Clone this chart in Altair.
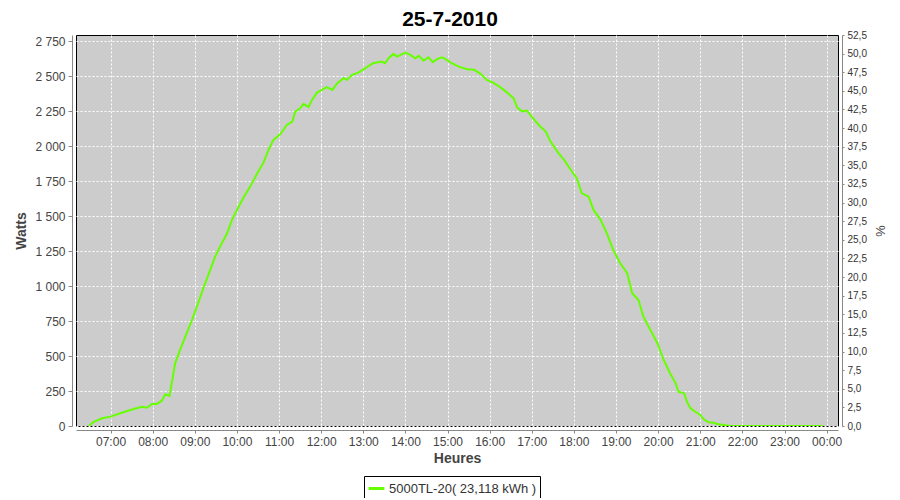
import altair as alt
import pandas as pd

# ---- data ----
times = [
    "06:29", "06:36", "06:48", "07:00", "07:16", "07:33", "07:45", "07:52", "07:59", "08:06",
    "08:13", "08:18", "08:24", "08:28", "08:32", "08:39", "08:45", "08:56", "09:03", "09:13",
    "09:22", "09:29", "09:36", "09:46", "09:53", "10:00", "10:10", "10:19", "10:29", "10:38",
    "10:45", "10:52", "11:02", "11:11", "11:19", "11:23", "11:30", "11:35", "11:42", "11:47",
    "11:54", "12:01", "12:08", "12:16", "12:23", "12:32", "12:37", "12:44", "12:53", "13:03",
    "13:14", "13:26", "13:31", "13:36", "13:43", "13:48", "14:00", "14:07", "14:14", "14:19",
    "14:26", "14:33", "14:39", "14:45", "14:52", "14:59", "15:06", "15:16", "15:28", "15:38",
    "15:47", "15:56", "16:05", "16:15", "16:25", "16:34", "16:39", "16:46", "16:53", "17:01",
    "17:11", "17:20", "17:26", "17:38", "17:46", "17:55", "18:04", "18:11", "18:21", "18:28",
    "18:38", "18:47", "18:56", "19:06", "19:16", "19:23", "19:32", "19:39", "19:49", "19:59",
    "20:08", "20:17", "20:25", "20:29", "20:37", "20:41", "20:46", "20:53", "21:00", "21:05",
    "21:12", "21:19", "21:24", "21:31", "21:42", "23:55",
]
watts = [
    0, 29, 55, 67, 95, 122, 138, 131, 157, 157,
    181, 227, 215, 329, 448, 544, 620, 758, 853, 996,
    1116, 1211, 1283, 1378, 1474, 1545, 1640, 1712, 1808, 1885,
    1974, 2046, 2088, 2153, 2177, 2248, 2272, 2303, 2280, 2332,
    2384, 2403, 2423, 2403, 2451, 2487, 2475, 2511, 2527, 2559,
    2594, 2606, 2594, 2630, 2661, 2642, 2670, 2654, 2630, 2647,
    2613, 2637, 2602, 2623, 2637, 2618, 2594, 2570, 2551, 2547,
    2518, 2475, 2456, 2423, 2384, 2344, 2280, 2250, 2256, 2205,
    2147, 2105, 2040, 1951, 1903, 1836, 1772, 1665, 1640, 1545,
    1474, 1378, 1259, 1164, 1092, 949, 901, 782, 687, 592,
    472, 377, 305, 245, 234, 174, 127, 102, 79, 48,
    26, 24, 14, 9, 0, 0,
]
series_name = "5000TL-20( 23,118 kWh )"
chart_title = "25-7-2010"

x_ticks = [7, 8, 9, 10, 11, 12, 13, 14, 15, 16, 17, 18, 19, 20, 21, 22, 23, 24]
watt_ticks = [0, 250, 500, 750, 1000, 1250, 1500, 1750, 2000, 2250, 2500, 2750]
pct_ticks = [0.0, 2.5, 5.0, 7.5, 10.0, 12.5, 15.0, 17.5, 20.0, 22.5, 25.0, 27.5,
             30.0, 32.5, 35.0, 37.5, 40.0, 42.5, 45.0, 47.5, 50.0, 52.5]
x_domain = [6.18, 24.27]
watt_domain = [0, 2796]
pct_domain = [0, 52.5]


def to_hours(t):
    hh, mm = t.split(":")
    return int(hh) + int(mm) / 60.0


df = pd.DataFrame({"h": [to_hours(t) for t in times], "w": watts, "s": series_name})
pct_df = pd.DataFrame({"h": x_domain, "p": pct_domain})

FONT = "Liberation Sans"
AXIS_GRAY = "#888888"

x_enc = alt.X(
    "h:Q",
    scale=alt.Scale(domain=x_domain, nice=False, zero=False),
    axis=alt.Axis(
        values=x_ticks,
        labelExpr="(datum.value % 24 < 10 ? '0' : '') + (datum.value % 24) + ':00'",
        title="Heures",
        titleFont=FONT, titleFontSize=14, titleFontWeight="bold", titleColor="#444444",
        titlePadding=4,
        labelFont=FONT, labelFontSize=12, labelColor="#444444", labelPadding=3,
        tickSize=3, tickColor=AXIS_GRAY, domainColor=AXIS_GRAY, offset=4,
        grid=True, gridColor="white", gridDash=[2, 2], gridWidth=1, gridOpacity=1,
        labelFlush=False, labelOverlap=False,
    ),
)

line = alt.Chart(df).mark_line(strokeWidth=2, clip=True).encode(
    x=x_enc,
    y=alt.Y(
        "w:Q",
        scale=alt.Scale(domain=watt_domain, nice=False, zero=True),
        axis=alt.Axis(
            values=watt_ticks,
            labelExpr="replace(format(datum.value, ',d'), ',', ' ')",
            title="Watts",
            titleFont=FONT, titleFontSize=14, titleFontWeight="bold", titleColor="#444444",
            titlePadding=6,
            labelFont=FONT, labelFontSize=12, labelColor="#444444", labelPadding=3,
            tickSize=4, tickColor=AXIS_GRAY, domainColor=AXIS_GRAY, offset=4,
            grid=True, gridColor="white", gridDash=[2, 2], gridWidth=1, gridOpacity=1,
            labelOverlap=False,
        ),
    ),
    color=alt.Color(
        "s:N",
        scale=alt.Scale(range=["#66ff00"]),
        legend=alt.Legend(
            title=None, orient="none", legendX=288, legendY=441,
            direction="horizontal", strokeColor="black", fillColor="white",
            padding=3, symbolType="stroke", symbolStrokeWidth=3, symbolSize=250,
            labelFont=FONT, labelFontSize=13, labelColor="#333333", labelOffset=3,
        ),
    ),
)

pct = alt.Chart(pct_df).mark_point(opacity=0).encode(
    x=x_enc,
    y=alt.Y(
        "p:Q",
        scale=alt.Scale(domain=pct_domain, nice=False, zero=True),
        axis=alt.Axis(
            orient="right",
            values=pct_ticks,
            labelExpr="replace(format(datum.value, '.1f'), '.', ',')",
            title="%",
            titleFont=FONT, titleFontSize=13, titleFontWeight="normal", titleColor="#444444",
            titlePadding=6,
            labelFont=FONT, labelFontSize=10, labelColor="#333333", labelPadding=3,
            tickSize=2, tickColor=AXIS_GRAY, domainColor=AXIS_GRAY, offset=4,
            grid=False, labelOverlap=False,
        ),
    ),
)

chart = (
    alt.layer(line, pct)
    .resolve_scale(y="independent")
    .properties(
        width=762,
        height=391,
        padding={"left": 68, "top": 27, "right": 50, "bottom": 72},
        autosize=alt.AutoSizeParams(type="none"),
        background="white",
        title=alt.Title(
            chart_title, font=FONT, fontSize=21, fontWeight="bold", color="black",
            anchor="middle", offset=8, dx=-7, dy=8,
        ),
    )
    .configure_view(fill="#cccccc", stroke="black", strokeWidth=1)
)

chart.save("out.html", embed_options={"renderer": "svg", "actions": False})
